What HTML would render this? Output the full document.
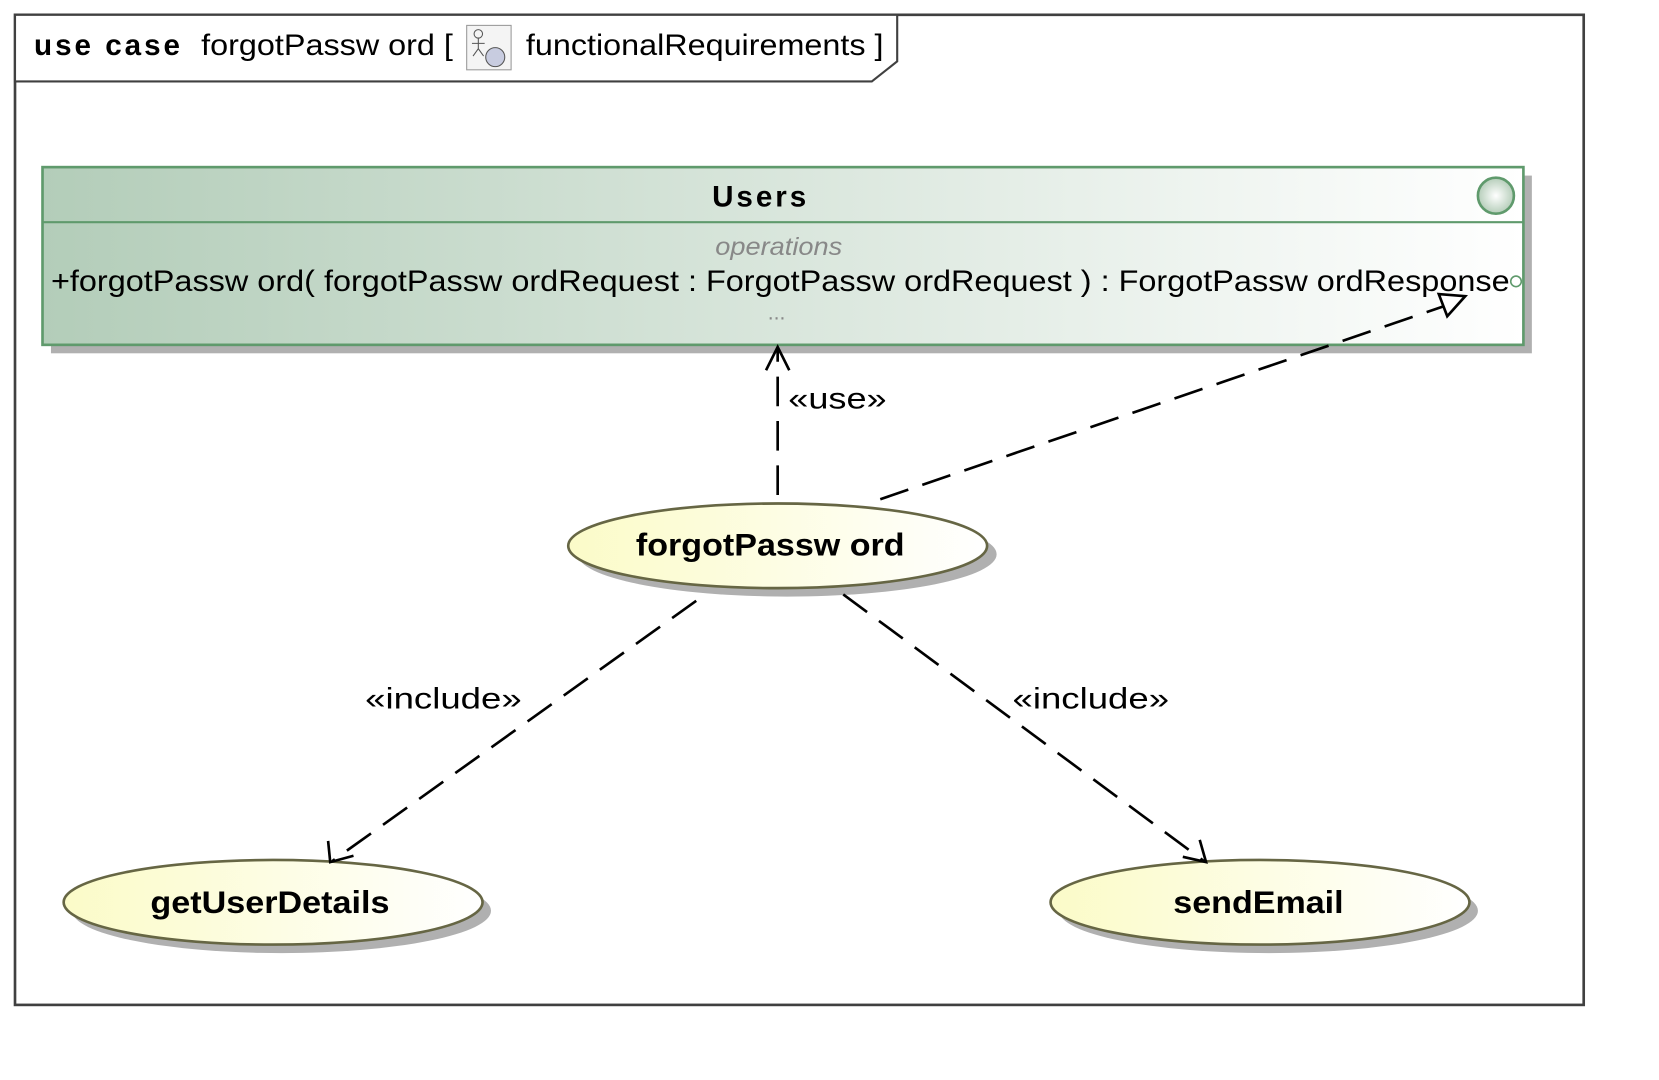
<!DOCTYPE html>
<html><head><meta charset="utf-8"><style>html,body{margin:0;padding:0;background:#fff;}svg{display:block;}</style></head>
<body>
<svg width="1659" height="1080" viewBox="0 0 1568 1021" xmlns="http://www.w3.org/2000/svg" font-family="Liberation Sans, Arial, sans-serif">
<defs>
<linearGradient id="gc" x1="0" y1="0" x2="1" y2="0"><stop offset="0" stop-color="#b3cdb9"/><stop offset="1" stop-color="#ffffff"/></linearGradient>
<linearGradient id="ge" x1="0" y1="0" x2="1" y2="0"><stop offset="0" stop-color="#fbfbc8"/><stop offset="1" stop-color="#ffffff"/></linearGradient>
<radialGradient id="gr"><stop offset="0" stop-color="#ffffff"/><stop offset="1" stop-color="#b5cdb9"/></radialGradient>
</defs>
<rect x="14" y="14" width="1483" height="936" fill="#fff" stroke="#404040" stroke-width="2.5"/>
<polygon points="14,14 848,14 848,58 824,77 14,77" fill="#fff" stroke="#404040" stroke-width="2"/>
<text x="32" y="52" font-size="28" font-weight="bold" textLength="138" lengthAdjust="spacing">use case</text>
<text x="190" y="52" font-size="28" textLength="238" lengthAdjust="spacingAndGlyphs">forgotPassw ord [</text>
<rect x="441" y="24" width="42" height="42" fill="#f4f4f4" stroke="#999"/>
<circle cx="468" cy="54" r="9" fill="#c8cce0" stroke="#555"/>
<circle cx="452" cy="32" r="4" fill="none" stroke="#555"/>
<path d="M452 36v10m-6-5h12m-6 5l-5 7m5-7l5 7" stroke="#555" fill="none"/>
<text x="497" y="52" font-size="28" textLength="338" lengthAdjust="spacingAndGlyphs">functionalRequirements  ]</text>
<rect x="48" y="166" width="1400" height="168" fill="#b0b0b0"/>
<rect x="40" y="158" width="1400" height="168" fill="url(#gc)" stroke="#5f9a6c" stroke-width="2.5"/>
<line x1="40" y1="210" x2="1440" y2="210" stroke="#5f9a6c" stroke-width="2"/>
<text x="673" y="195" font-size="28" font-weight="bold" textLength="89" lengthAdjust="spacing">Users</text>
<circle cx="1414" cy="185" r="17" fill="url(#gr)" stroke="#5f9a6c" stroke-width="2.5"/>
<text x="676" y="241" font-size="24" font-style="italic" fill="#888" textLength="120" lengthAdjust="spacingAndGlyphs">operations</text>
<text x="48" y="275" font-size="28" textLength="1379" lengthAdjust="spacingAndGlyphs">+forgotPassw ord( forgotPassw ordRequest : ForgotPassw ordRequest ) : ForgotPassw ordResponse</text>
<circle cx="1433" cy="266" r="5" fill="#fff" stroke="#5f9a6c" stroke-width="1.5"/>
<text x="734" y="302" font-size="20" fill="#888" text-anchor="middle">...</text>
<ellipse cx="744" cy="524" rx="198" ry="40" fill="#b0b0b0"/>
<ellipse cx="735" cy="516" rx="198" ry="40" fill="url(#ge)" stroke="#666644" stroke-width="2.5"/>
<text x="601" y="525" font-size="30" font-weight="bold" textLength="254" lengthAdjust="spacingAndGlyphs">forgotPassw ord</text>
<ellipse cx="266" cy="861" rx="198" ry="40" fill="#b0b0b0"/>
<ellipse cx="258" cy="853" rx="198" ry="40" fill="url(#ge)" stroke="#666644" stroke-width="2.5"/>
<text x="142" y="863" font-size="30" font-weight="bold" textLength="226" lengthAdjust="spacingAndGlyphs">getUserDetails</text>
<ellipse cx="1199" cy="861" rx="198" ry="40" fill="#b0b0b0"/>
<ellipse cx="1191" cy="853" rx="198" ry="40" fill="url(#ge)" stroke="#666644" stroke-width="2.5"/>
<text x="1109" y="863" font-size="30" font-weight="bold" textLength="161" lengthAdjust="spacingAndGlyphs">sendEmail</text>
<g stroke="#000" stroke-width="2.5" fill="none" stroke-dasharray="28,14">
<line x1="735" y1="468" x2="735" y2="330"/>
<line x1="832" y1="472" x2="1372" y2="287"/>
<line x1="658" y1="568" x2="314" y2="814"/>
<line x1="797" y1="562" x2="1138" y2="814"/>
</g>
<g stroke="#000" stroke-width="2.5" fill="none">
<path d="M724 350L735 328L746 350"/>
<path d="M310 795L312 815L334 809"/>
<path d="M1118 810L1140 815L1134 794"/>
<polygon points="1385,280 1360,278 1368,299" fill="#fff"/>
</g>
<text x="745" y="386" font-size="28" textLength="93" lengthAdjust="spacingAndGlyphs">«use»</text>
<text x="345" y="670" font-size="28" textLength="148" lengthAdjust="spacingAndGlyphs">«include»</text>
<text x="957" y="670" font-size="28" textLength="148" lengthAdjust="spacingAndGlyphs">«include»</text>
</svg>
</body></html>
